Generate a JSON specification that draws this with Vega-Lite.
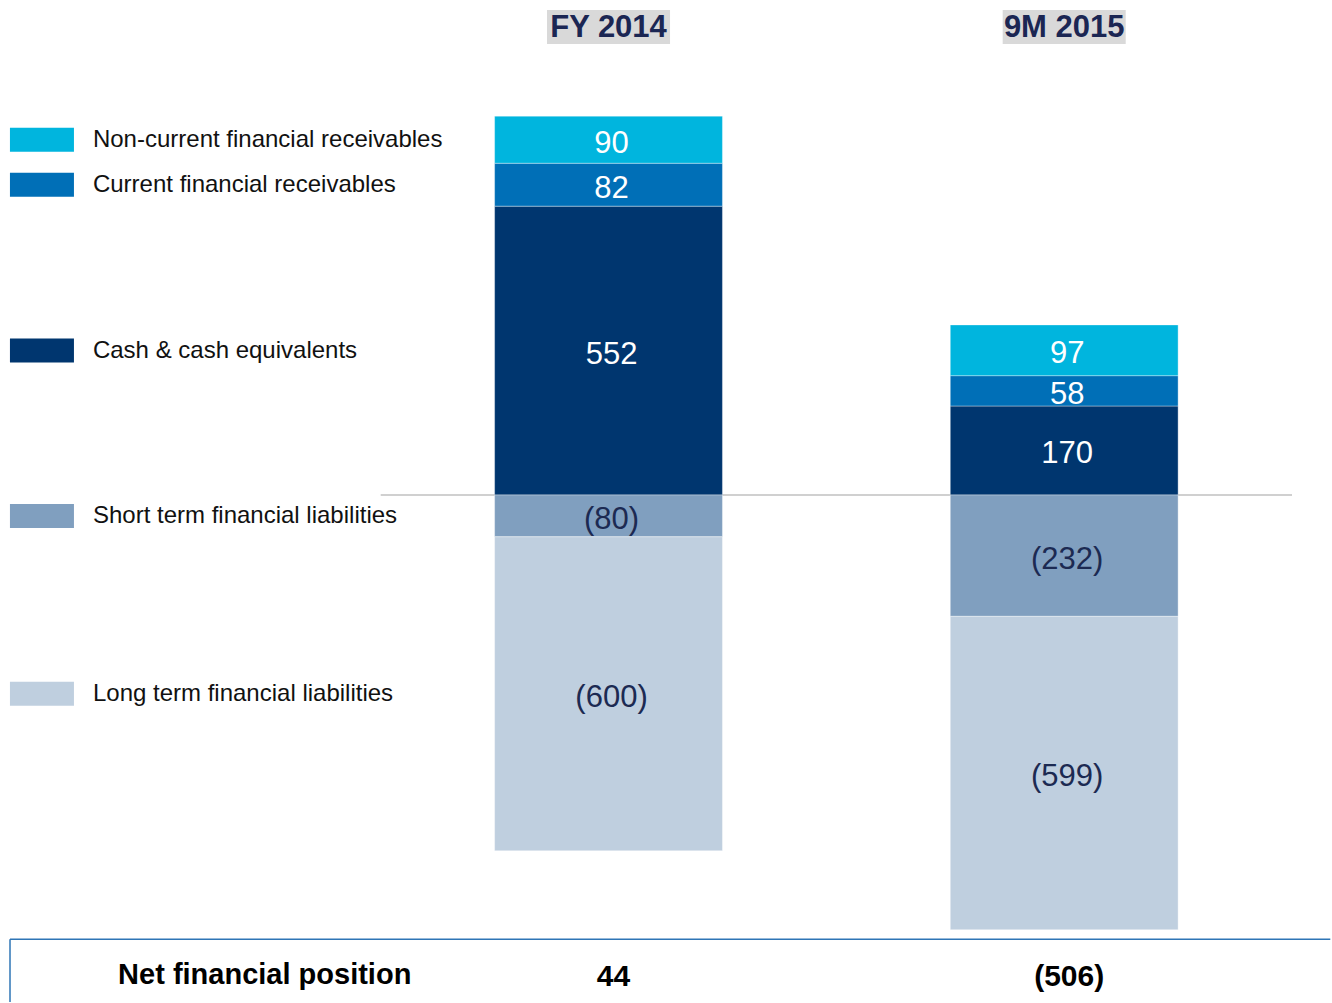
{
  "$schema": "https://vega.github.io/schema/vega-lite/v6.json",
  "width": 1332,
  "height": 1003,
  "autosize": {"type": "fit", "contains": "padding"},
  "padding": 0,
  "background": "white",
  "config": {"view": {"stroke": null}, "font": "Liberation Sans"},
  "data": {
    "values": [
      {"period": "FY 2014", "category": "Cash & cash equivalents", "value": 552},
      {"period": "FY 2014", "category": "Current financial receivables", "value": 82},
      {"period": "FY 2014", "category": "Non-current financial receivables", "value": 90},
      {"period": "FY 2014", "category": "Short term financial liabilities", "value": -80},
      {"period": "FY 2014", "category": "Long term financial liabilities", "value": -600},
      {"period": "9M 2015", "category": "Cash & cash equivalents", "value": 170},
      {"period": "9M 2015", "category": "Current financial receivables", "value": 58},
      {"period": "9M 2015", "category": "Non-current financial receivables", "value": 97},
      {"period": "9M 2015", "category": "Short term financial liabilities", "value": -232},
      {"period": "9M 2015", "category": "Long term financial liabilities", "value": -599}
    ]
  },
  "resolve": {"scale": {"color": "shared"}},
  "layer": [
    {
      "data": {"values": [{}]},
      "mark": {"type": "rule", "color": "#c0c0c0", "strokeWidth": 1.5},
      "encoding": {
        "x": {"datum": "FY 2014", "type": "nominal", "bandPosition": -0.5,
              "scale": {"type": "band", "domain": ["legend", "FY 2014", "9M 2015"], "paddingInner": 0.5, "paddingOuter": 0.2105, "align": 0.203},
              "axis": null},
        "x2": {"datum": "9M 2015", "bandPosition": 1.5},
        "y": {"datum": 0, "type": "quantitative", "scale": {"domain": [-971, 946], "nice": false, "zero": false}, "axis": null}
      }
    },
    {
      "transform": [
        {"stack": "value", "groupby": ["period"], "as": ["v0", "v1"]}
      ],
      "mark": {"type": "bar", "stroke": "#ffffff", "strokeWidth": 0.6, "strokeOpacity": 0.6},
      "encoding": {
        "x": {"field": "period", "type": "nominal"},
        "y": {"field": "v0", "type": "quantitative"},
        "y2": {"field": "v1"},
        "color": {
          "field": "category", "type": "nominal",
          "scale": {
            "domain": ["Non-current financial receivables", "Current financial receivables", "Cash & cash equivalents", "Short term financial liabilities", "Long term financial liabilities"],
            "range": ["#00b5de", "#006fb7", "#00366f", "#809fbf", "#bfcfdf"]
          },
          "legend": null
        }
      }
    },
    {
      "transform": [
        {"stack": "value", "groupby": ["period"], "as": ["v0", "v1"]},
        {"calculate": "(datum.v0 + datum.v1) / 2", "as": "mid"}
      ],
      "mark": {"type": "text", "fontSize": 31, "align": "center", "baseline": "middle", "dy": 4, "dx": 3},
      "encoding": {
        "x": {"field": "period", "type": "nominal"},
        "y": {"field": "mid", "type": "quantitative"},
        "text": {"field": "value", "type": "quantitative", "format": "(d"},
        "color": {"condition": {"test": "datum.value > 0", "value": "#ffffff"}, "value": "#1c2a52"}
      }
    },
    {
      "transform": [
        {"stack": "value", "groupby": ["period"], "as": ["v0", "v1"]},
        {"calculate": "(datum.v0 + datum.v1) / 2", "as": "mid"},
        {"filter": "datum.period == 'FY 2014'"}
      ],
      "mark": {"type": "point", "shape": "M-1,-0.375H1V0.375H-1Z", "size": 4096, "filled": true, "opacity": 1},
      "encoding": {
        "x": {"datum": "legend", "type": "nominal", "bandPosition": 0.0132},
        "y": {"field": "mid", "type": "quantitative"},
        "color": {"field": "category", "type": "nominal"}
      }
    },
    {
      "transform": [
        {"stack": "value", "groupby": ["period"], "as": ["v0", "v1"]},
        {"calculate": "(datum.v0 + datum.v1) / 2", "as": "mid"},
        {"filter": "datum.period == 'FY 2014'"}
      ],
      "mark": {"type": "text", "fontSize": 24, "align": "left", "baseline": "middle", "color": "#111111"},
      "encoding": {
        "x": {"datum": "legend", "type": "nominal", "bandPosition": 0.237},
        "y": {"field": "mid", "type": "quantitative"},
        "text": {"field": "category", "type": "nominal"}
      }
    },
    {
      "transform": [
        {"aggregate": [{"op": "sum", "field": "value", "as": "net"}], "groupby": ["period"]}
      ],
      "mark": {"type": "rect", "color": "#d9d9d9"},
      "encoding": {
        "x": {"field": "period", "type": "nominal", "bandPosition": 0.23},
        "x2": {"field": "period", "bandPosition": 0.77},
        "y": {"datum": 927, "type": "quantitative"},
        "y2": {"datum": 862}
      }
    },
    {
      "transform": [
        {"aggregate": [{"op": "sum", "field": "value", "as": "net"}], "groupby": ["period"]}
      ],
      "mark": {"type": "text", "fontSize": 31, "fontWeight": "bold", "align": "center", "baseline": "middle", "color": "#1b2653", "dy": 1},
      "encoding": {
        "x": {"field": "period", "type": "nominal"},
        "y": {"datum": 894.5, "type": "quantitative"},
        "text": {"field": "period", "type": "nominal"}
      }
    },
    {
      "transform": [
        {"aggregate": [{"op": "sum", "field": "value", "as": "net"}], "groupby": ["period"]}
      ],
      "mark": {"type": "text", "fontSize": 30, "fontWeight": "bold", "align": "center", "baseline": "middle", "color": "#000000", "dy": 2, "dx": 5},
      "encoding": {
        "x": {"field": "period", "type": "nominal"},
        "y": {"datum": -918, "type": "quantitative"},
        "text": {"field": "net", "type": "quantitative", "format": "(d"}
      }
    },
    {
      "data": {"values": [{"label": "Net financial position"}]},
      "mark": {"type": "text", "fontSize": 29, "fontWeight": "bold", "align": "center", "baseline": "middle", "color": "#000000"},
      "encoding": {
        "x": {"datum": "legend", "type": "nominal", "bandPosition": 0.991},
        "y": {"datum": -918, "type": "quantitative"},
        "text": {"field": "label", "type": "nominal"}
      }
    },
    {
      "data": {"values": [{}]},
      "mark": {"type": "rule", "color": "#2e75b6", "strokeWidth": 1.5},
      "encoding": {
        "x": {"datum": "legend", "type": "nominal", "bandPosition": -0.127},
        "x2": {"datum": "9M 2015", "bandPosition": 1.668},
        "y": {"datum": -849, "type": "quantitative"}
      }
    },
    {
      "data": {"values": [{}]},
      "mark": {"type": "rule", "color": "#2e75b6", "strokeWidth": 1.5},
      "encoding": {
        "x": {"datum": "legend", "type": "nominal", "bandPosition": -0.127},
        "y": {"datum": -849, "type": "quantitative"},
        "y2": {"datum": -969}
      }
    }
  ]
}
